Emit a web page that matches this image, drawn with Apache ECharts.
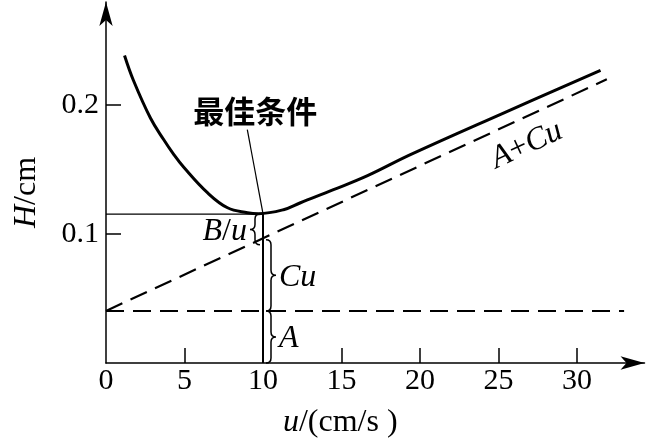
<!DOCTYPE html>
<html><head><meta charset="utf-8">
<script src="https://cdn.jsdelivr.net/npm/echarts@6/dist/echarts.min.js"></script>
<style>html,body{margin:0;padding:0;background:#fff}#c{width:646px;height:445px}</style>
</head><body><div id="c"></div>
<script>
// ---- data ----
const uLabels = [0, 5, 10, 15, 20, 25, 30];
const uTickMarks = [5, 10, 15, 20, 25, 30];
const hLabels = [0.1, 0.2];
const curveU = [1.18, 1.75, 2.83, 3.66, 4.30, 4.94, 6.46, 7.74, 9.01, 9.71, 11.31, 12.39, 14.49, 16.66, 19.39, 25.1, 31.5];
const curveH = [0.2385, 0.2191, 0.1900, 0.1735, 0.1620, 0.1520, 0.1321, 0.1204, 0.1166, 0.1158, 0.1189, 0.1243, 0.1344, 0.1453, 0.1616, 0.1927, 0.2269];
const lineACuU = [0, 31.9];
const lineACuH = [0.0404, 0.220];
const lineAU = [0, 33];
const lineAH = [0.0404, 0.0404];
const optimumU = 10;
const optimumH = 0.1158;
const optimumLevel = 0.1155;
const leaderU = [9.0, 10];
const leaderH = [0.181, 0.1158];
const braceFrom = [0.1155, 0.0956, 0.0404];
const braceTo = [0.0917, 0.0404, 0];
const braceSide = ['left', 'right', 'right'];
const braceText = ['{i|B}/{i|u}', '{i|Cu}', '{i|A}'];
const lineLabelPos = [26.8, 0.169];
const lineLabelText = '{i|A}+{i|Cu}';
const optLabelPos = [9.5, 0.195];
const optLabelText = '最佳条件';

const SERIF = '"Liberation Serif","DejaVu Serif",serif';
const FS = 30;   // tick labels
const NS = 32;   // names / annotations
const richN = { i: { fontStyle: 'italic', fontFamily: SERIF, fontSize: NS, color: '#000' } };

const chart = echarts.init(document.getElementById('c'), null, { renderer: 'canvas' });
const pairs = (a, b) => a.map((v, i) => [v, b[i]]);

const option = {
  animation: false,
  backgroundColor: '#fff',
  grid: { left: 106, right: 1.5, top: 2, bottom: 82, containLabel: false },
  xAxis: {
    type: 'value', min: 0, max: 34.3,
    name: '{i|u}/(cm/s )', nameLocation: 'middle', nameGap: 44,
    nameTextStyle: { fontFamily: SERIF, fontSize: NS, color: '#000', padding: [0, 70, 0, 0], rich: richN },
    axisLine: { show: true, onZero: false, symbol: ['none', 'arrow'], symbolSize: [10, 24], lineStyle: { color: '#000', width: 1.5 } },
    axisTick: { show: true, inside: true, length: 15, customValues: uTickMarks, lineStyle: { color: '#000', width: 1.5 } },
    axisLabel: { customValues: uLabels, margin: 3, fontFamily: SERIF, fontSize: FS, color: '#000' },
    splitLine: { show: false }
  },
  yAxis: {
    type: 'value', min: 0, max: 0.280,
    name: '{i|H}/cm', nameLocation: 'middle', nameGap: 63,
    nameTextStyle: { fontFamily: SERIF, fontSize: NS, color: '#000', padding: [0, 20, 0, 0], rich: richN },
    axisLine: { show: true, onZero: false, symbol: ['none', 'arrow'], symbolSize: [10, 24], lineStyle: { color: '#000', width: 1.5 } },
    axisTick: { show: true, inside: true, length: 15, customValues: hLabels, lineStyle: { color: '#000', width: 1.5 } },
    axisLabel: { customValues: hLabels, margin: 7, fontFamily: SERIF, fontSize: FS, color: '#000', formatter: v => v.toFixed(1) },
    splitLine: { show: false }
  },
  series: [
    { type: 'line', data: pairs(curveU, curveH), smooth: 0.4, showSymbol: false, symbol: 'none',
      lineStyle: { color: '#000', width: 3 }, z: 5 },
    { type: 'line', data: pairs(lineACuU, lineACuH), showSymbol: false, symbol: 'none',
      lineStyle: { color: '#000', width: 2.2, type: [18, 9] } },
    { type: 'line', data: pairs(lineAU, lineAH), showSymbol: false, symbol: 'none',
      lineStyle: { color: '#000', width: 2, type: [18, 9] } },
    { type: 'line', data: [[0, optimumLevel], [optimumU, optimumLevel]], showSymbol: false, symbol: 'none',
      lineStyle: { color: '#000', width: 1.3 } },
    { type: 'line', data: [[optimumU, 0], [optimumU, optimumH]], showSymbol: false, symbol: 'none',
      lineStyle: { color: '#000', width: 2 } },
    { type: 'line', data: pairs(leaderU, leaderH), showSymbol: false, symbol: 'none',
      lineStyle: { color: '#000', width: 1.2 } },
    { type: 'custom', clip: false,
      data: braceFrom.map((f, i) => [optimumU, f, braceTo[i]]),
      renderItem: function (params, api) {
        const i = params.dataIndex;
        const p1 = api.coord([api.value(0), api.value(1)]);
        const p2 = api.coord([api.value(0), api.value(2)]);
        const dir = braceSide[i] === 'right' ? 1 : -1;
        const x0 = p1[0] + dir * 3;
        const w = 10 * dir;
        const y1 = p1[1], y2 = p2[1], ym = (y1 + y2) / 2;
        const r = Math.min(5, (y2 - y1) / 4);
        const xm = x0 + w / 2;
        const d = `M${x0},${y1} Q${xm},${y1} ${xm},${y1 + r} L${xm},${ym - r} Q${xm},${ym} ${x0 + w},${ym} ` +
          `Q${xm},${ym} ${xm},${ym + r} L${xm},${y2 - r} Q${xm},${y2} ${x0},${y2}`;
        return {
          type: 'group', children: [
            { type: 'path', shape: { pathData: d }, style: { stroke: '#000', fill: null, lineWidth: 1.5 } },
            { type: 'text', x: x0 + w + dir * 3, y: ym + 2,
              style: { text: braceText[i], align: dir > 0 ? 'left' : 'right', verticalAlign: 'middle',
                fontFamily: SERIF, fontSize: NS, fill: '#000', rich: richN } }
          ]
        };
      }
    },
    { type: 'custom', clip: false,
      data: [lineLabelPos, optLabelPos],
      renderItem: function (params, api) {
        const p = api.coord([api.value(0), api.value(1)]);
        if (params.dataIndex === 0) {
          const a = api.coord([lineACuU[0], lineACuH[0]]);
          const b = api.coord([lineACuU[1], lineACuH[1]]);
          const rot = Math.atan2(a[1] - b[1], b[0] - a[0]);
          return { type: 'text', x: p[0], y: p[1], rotation: rot,
            style: { text: lineLabelText, align: 'center', verticalAlign: 'middle',
              fontFamily: SERIF, fontSize: NS, fill: '#000', rich: richN } };
        }
        return { type: 'text', x: p[0], y: p[1],
          style: { text: optLabelText, align: 'center', verticalAlign: 'middle',
            fontFamily: '"Noto Sans CJK SC",sans-serif', fontWeight: 'bold', fontSize: 31, fill: '#000' } };
      }
    }
  ]
};
chart.setOption(option);
</script></body></html>
